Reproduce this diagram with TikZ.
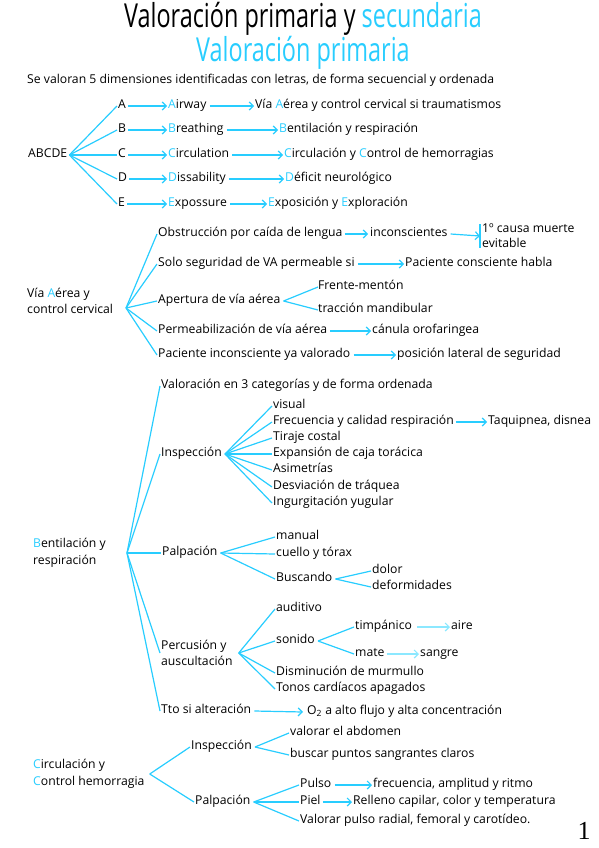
\documentclass[tikz,border=0pt]{standalone}
\usepackage{fontspec}
\setmainfont{Open Sans}
\newfontfamily\pgfont{Liberation Serif}
\usetikzlibrary{arrows.meta}
\definecolor{cy}{RGB}{40,205,255}
\definecolor{lcy}{RGB}{140,232,255}
\newcommand{\cc}[1]{\textcolor{cy}{#1}}
\begin{document}
\begin{tikzpicture}[x=1pt,y=-1pt,
 t/.style={anchor=west,inner sep=0pt,text height=8pt,text depth=2.2pt,font=\fontsize{12.2}{14}\selectfont},
 ml/.style={anchor=west,inner sep=0pt,align=left,font=\fontsize{12.2}{16.5}\selectfont},
 ln/.style={draw=cy,line width=1.2pt},
 ar/.style={ln,-{Straight Barb[length=4pt,width=8pt]}},
 lar/.style={draw=lcy,line width=1.2pt,-{Straight Barb[length=4pt,width=8pt]}}]
\useasboundingbox (0,0) rectangle (599,848);
% titles
\node[inner sep=0pt,align=center,font=\fontsize{33}{28}\selectfont] (ttl) at (303,36)
  {\scalebox{0.71}[1]{Valoración primaria y \textcolor{cy}{secundaria}}\\
   \scalebox{0.71}[1]{\color{cy}Valoración primaria}};
\node[t] (intro) at (27,81) {Se valoran 5 dimensiones identificadas con letras, de forma secuencial y ordenada};
% ABCDE
\node[t] (abc) at (28,155) {ABCDE};
\node[t] (A) at (118,106) {A};
\node[t] (B) at (118,130) {B};
\node[t] (C) at (118,155) {C};
\node[t] (D) at (118,179) {D};
\node[t] (E) at (118,204) {E};
\foreach \n in {A,B,C,D,E} \draw[ln] ([xshift=2pt]abc.east) -- ([xshift=-1pt]\n.west);
\node[t] (Aw) at (168,106) {\cc{A}irway};
\node[t] (Bw) at (168,130) {\cc{B}reathing};
\node[t] (Cw) at (168,155) {\cc{C}irculation};
\node[t] (Dw) at (168,179) {\cc{D}issability};
\node[t] (Ew) at (168,204) {\cc{E}xpossure};
\node[t] (Av) at (255,106) {Vía \cc{A}érea y control cervical si traumatismos};
\node[t] (Bv) at (279,130) {\cc{B}entilación y respiración};
\node[t] (Cv) at (284,155) {\cc{C}irculación y \cc{C}ontrol de hemorragias};
\node[t] (Dv) at (285,179) {\cc{D}éficit neurológico};
\node[t] (Ev) at (268,204) {\cc{E}xposición y \cc{E}xploración};
\foreach \n in {A,B,C,D,E} {
  \draw[ar] ([xshift=2pt]\n.east) -- ([xshift=-1pt]\n w.west);
  \draw[ar] ([xshift=3pt]\n w.east) -- ([xshift=-1pt]\n v.west);
}
% Via aerea
\node[ml] (va) at (27,301) {Vía \cc{A}érea y\\control cervical};
\coordinate (fva) at (126,308);
\node[t] (o1) at (158,234) {Obstrucción por caída de lengua};
\node[t] (o2) at (158,264) {Solo seguridad de VA permeable si};
\node[t] (o3) at (158,301) {Apertura de vía aérea};
\node[t] (o4) at (158,331) {Permeabilización de vía aérea};
\node[t] (o5) at (158,355) {Paciente inconsciente ya valorado};
\foreach \n in {o1,o2,o3,o4,o5} \draw[ln] (fva) -- ([xshift=-1pt]\n.west);
\node[t] (inc) at (370,234) {inconscientes};
\node[anchor=west,inner sep=0pt,align=left,font=\fontsize{12.2}{15}\selectfont] (cm) at (482,236) {1º causa muerte\\evitable};
\draw[ln] ([xshift=-2pt]cm.north west) -- ([xshift=-2pt]cm.south west);
\draw[ar] ([xshift=2pt]o1.east) -- ([xshift=-2pt]inc.west);
\draw[ar] ([xshift=3pt]inc.east) -- ([xshift=-2pt]cm.west);
\node[t] (pch) at (405,264) {Paciente consciente habla};
\draw[ar] ([xshift=3pt]o2.east) -- ([xshift=-1pt]pch.west);
\node[t] (fm) at (318,287) {Frente-mentón};
\node[t] (tm) at (318,310) {tracción mandibular};
\draw[ln] ([xshift=3pt]o3.east) -- (fm.west);
\draw[ln] ([xshift=3pt]o3.east) -- (tm.west);
\node[t] (can) at (372,331) {cánula orofaringea};
\draw[ar] ([xshift=3pt]o4.east) -- ([xshift=-1pt]can.west);
\node[t] (pls) at (397,355) {posición lateral de seguridad};
\draw[ar] ([xshift=3pt]o5.east) -- ([xshift=-1pt]pls.west);
% Bentilacion
\node[ml] (br) at (33,553) {\cc{B}entilación y\\respiración};
\coordinate (fbr) at (127,553);
\node[t] (v3) at (161,386) {Valoración en 3 categorías y de forma ordenada};
\node[t] (insp) at (161,454) {Inspección};
\node[t] (palp) at (162,553) {Palpación};
\node[ml] (perc) at (161,653) {Percusión y\\auscultación};
\node[t] (tto) at (161,711) {Tto si alteración};
\foreach \n in {v3,insp,palp,perc,tto} \draw[ln] (fbr) -- ([xshift=-1pt]\n.west);
\node[t] (i1) at (273,406) {visual};
\node[t] (i2) at (273,422) {Frecuencia y calidad respiración};
\node[t] (i3) at (273,438) {Tiraje costal};
\node[t] (i4) at (273,454) {Expansión de caja torácica};
\node[t] (i5) at (273,470) {Asimetrías};
\node[t] (i6) at (273,487) {Desviación de tráquea};
\node[t] (i7) at (273,503) {Ingurgitación yugular};
\foreach \n in {i1,i2,i3,i4,i5,i6,i7} \draw[ln] ([xshift=3pt]insp.east) -- ([xshift=-1pt]\n.west);
\node[t] (taq) at (488,422) {Taquipnea, disnea};
\draw[ar] ([xshift=2pt]i2.east) -- ([xshift=-1pt]taq.west);
\node[t] (p1) at (276,537) {manual};
\node[t] (p2) at (276,554) {cuello y tórax};
\node[t] (p3) at (276,579) {Buscando};
\foreach \n in {p1,p2,p3} \draw[ln] ([xshift=3pt]palp.east) -- ([xshift=-1pt]\n.west);
\node[t] (dol) at (372,571) {dolor};
\node[t] (def) at (372,587) {deformidades};
\draw[ln] ([xshift=3pt]p3.east) -- ([xshift=-1pt]dol.west);
\draw[ln] ([xshift=3pt]p3.east) -- ([xshift=-1pt]def.west);
\coordinate (fpe) at ([xshift=6pt]perc.east);
\node[t] (q1) at (276,609) {auditivo};
\node[t] (q2) at (276,641) {sonido};
\node[t] (q3) at (276,673) {Disminución de murmullo};
\node[t] (q4) at (276,689) {Tonos cardíacos apagados};
\foreach \n in {q1,q2,q3,q4} \draw[ln] (fpe) -- ([xshift=-1pt]\n.west);
\node[t] (timp) at (355,627) {timpánico};
\node[t] (mate) at (355,654) {mate};
\draw[ln] ([xshift=3pt]q2.east) -- ([xshift=-1pt]timp.west);
\draw[ln] ([xshift=3pt]q2.east) -- ([xshift=-1pt]mate.west);
\node[t] (aire) at (451,627) {aire};
\node[t] (sang) at (420,654) {sangre};
\draw[lar] ([xshift=5pt]timp.east) -- ([xshift=-1pt]aire.west);
\draw[lar] ([xshift=2pt]mate.east) -- ([xshift=-1pt]sang.west);
\node[t] (oxy) at (307,712) {O\textsubscript{2} a alto flujo y alta concentración};
\draw[ar] ([xshift=3pt]tto.east) -- ([xshift=-4pt]oxy.west);
% Circulacion
\node[ml] (ci) at (33,774) {\cc{C}irculación y\\\cc{C}ontrol hemorragia};
\coordinate (fci) at ([xshift=5pt]ci.east);
\node[t] (c1) at (191,747) {Inspección};
\node[t] (c2) at (195,802) {Palpación};
\draw[ln] (fci) -- ([xshift=-1pt]c1.west);
\draw[ln] (fci) -- ([xshift=-1pt]c2.west);
\node[t] (va1) at (290,733) {valorar el abdomen};
\node[t] (va2) at (290,755) {buscar puntos sangrantes claros};
\draw[ln] ([xshift=3pt]c1.east) -- ([xshift=-1pt]va1.west);
\draw[ln] ([xshift=3pt]c1.east) -- ([xshift=-1pt]va2.west);
\node[t] (pu) at (300,785) {Pulso};
\node[t] (pi) at (300,802) {Piel};
\node[t] (vp) at (300,821) {Valorar pulso radial, femoral y carotídeo.};
\foreach \n in {pu,pi,vp} \draw[ln] ([xshift=3pt]c2.east) -- ([xshift=-1pt]\n.west);
\node[t] (fr) at (373,785) {frecuencia, amplitud y ritmo};
\node[t] (rc) at (353,802) {Relleno capilar, color y temperatura};
\draw[ar] ([xshift=3pt]pu.east) -- ([xshift=-1pt]fr.west);
\draw[ar] ([xshift=2pt]pi.east) -- ([xshift=-1pt]rc.west);
\node[inner sep=0pt] (pg) at (584,831) {\fontsize{26}{26}\selectfont\pgfont 1};
\end{tikzpicture}
\end{document}
